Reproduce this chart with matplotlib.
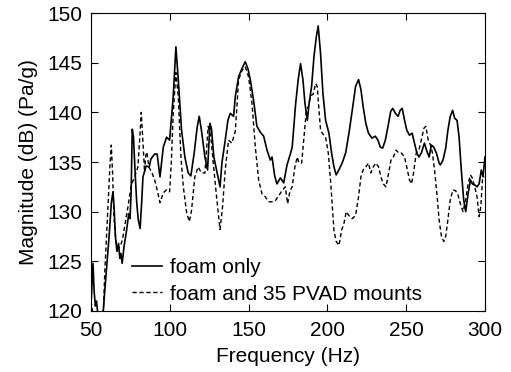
import matplotlib
matplotlib.use('Agg')
import matplotlib.pyplot as plt

# foam only (solid)
freq_foam = [50, 51.3, 52, 52.8, 53.5, 54.5, 56, 57.6, 58.5, 60, 61.5, 63, 64, 64.8, 65.5,
             66.5, 67.5, 68.3, 69, 69.8, 71, 72.5, 74, 74.8, 75.5, 76.2, 77, 78, 79, 80,
             81.2, 82.2, 83, 85, 87, 88, 90.4, 92, 93.8, 95.9, 98, 99.9, 102.2, 103.9,
             105.4, 107.5, 109.6, 111.7, 113.4, 115.5, 117.4, 118.7, 120.1, 122.3, 124,
             125.5, 126.5, 128, 129.7, 131.9, 133.1, 135.2, 136.9, 138.4, 140.5, 141.6,
             143.7, 145.8, 147.9, 149.6, 151.1, 153.2, 155.3, 157.5, 159.6, 161.7, 163.8,
             164.9, 166.6, 168, 170.2, 172.3, 174.4, 176.5, 177.7, 179.9, 181.5, 183,
             184.5, 185.8, 187.3, 188.4, 190, 191.5, 193, 194.2, 195.7, 197.2, 198.9, 201,
             202.7, 204.2, 205.6, 207.3, 209.4, 211.6, 213.7, 215.8, 217.9, 219.8, 221.3,
             222.7, 224.4, 226.1, 228.3, 230.4, 232.1, 233.6, 235.1, 236.8, 238.5, 240.2,
             241.5, 243.2, 244.9, 246.2, 247.5, 249, 250.4, 252.1, 253.8, 255.3, 256.8,
             258.1, 259.6, 261.6, 262.9, 264.6, 266, 267.5, 269.2, 270.9, 271.7, 273.4,
             275.1, 276.5, 278, 279.5, 280.8, 282.3, 283.6, 285, 286.5, 287.8, 289.3,
             290.8, 292, 293.5, 295, 296.3, 297.7, 298.8, 300]
mag_foam = [120.5, 124.8, 122, 120.5, 121, 119.5, 118, 119.5, 121.5, 124.5, 127.5, 131, 132,
            130, 127.5, 126, 126.8, 125.3, 125.8, 124.8, 126.5, 128, 129.8, 129.3, 132,
            138.3, 137.5, 134, 131, 129.2, 128.3, 131, 133.5, 134.6, 134.5, 135.3, 135.8,
            135.8, 133.5, 136.5, 137.5, 137.2, 141.6, 146.6, 143.3, 138.2, 135.5, 133.9,
            133.6, 135.9, 138.5, 139.6, 138.2, 135.5, 134.2, 138.9, 138.3, 135.5, 134.2,
            132.5, 134.9, 137.2, 139.2, 139.9, 139.6, 141.6, 143.6, 144.4, 145.1, 144.4,
            143.3, 141.2, 138.6, 138.0, 137.6, 136.2, 135.2, 135.5, 133.6, 132.8, 133.4,
            132.9, 134.7, 135.8, 136.5, 140.9, 143.3, 144.9, 143.3, 140.9, 139.2, 140.9,
            142.6, 145.6, 147.6, 148.7, 145.9, 141.9, 139.2, 137.9, 135.9, 134.5, 133.7,
            134.2, 134.9, 135.9, 137.9, 140.2, 142.6, 143.3, 142.3, 140.6, 138.9, 137.9,
            137.4, 137.6, 137.2, 136.5, 136.4, 137.2, 138.6, 140.1, 140.4, 139.9, 139.6,
            140.2, 140.4, 139.2, 138.2, 137.7, 137.9, 136.9, 135.9, 135.5, 135.9, 136.9,
            136.2, 135.5, 136.7, 136.5, 135.9, 134.9, 134.7, 135.2, 136.4, 138.2, 139.6,
            140.2, 139.4, 139.2, 137.5, 134.2, 131.2, 130.0, 131.8, 133.2, 132.8, 132.7,
            132.5, 132.8, 134.2, 133.5, 135.5]

# foam and 35 PVAD mounts (dashed)
freq_pvad = [50, 51.5, 53, 55, 57, 58, 58.8, 60, 60.8, 62, 62.9, 63.7, 64.6, 66, 67.5, 68.8,
             70, 71.4, 73.5, 75.6, 77.7, 79.8, 81, 81.9, 83, 84, 84.7, 85.5, 86.7, 88.5,
             90.4, 92, 93.8, 95.9, 98, 99.9, 101, 102.2, 103.9, 105.4, 107.1, 108.6, 110.7,
             112.4, 113.8, 115.9, 118, 120.1, 122.3, 124.4, 126.1, 127.6, 129.7, 131.9,
             133.5, 135.2, 137.3, 139.4, 141.6, 143.7, 145.8, 147.9, 150, 152.2, 154.3,
             156.4, 158.5, 160.6, 162.7, 164.9, 167, 169.1, 171.2, 173.3, 174.8, 176.3,
             177.7, 179.4, 180.9, 182, 183.7, 185.2, 186.7, 188, 189.5, 190.9, 192.6,
             193.6, 194.7, 195.7, 196.8, 198.9, 200.6, 202, 203.2, 204.2, 205.6, 207.4,
             209, 210.5, 212, 213.7, 215.8, 217.9, 219.8, 221.3, 222.7, 224.4, 226.1,
             227.6, 229.1, 230.8, 232.5, 234, 235.5, 237.2, 238.9, 240.4, 241.9, 243.6,
             245.3, 247, 249, 250.4, 252.1, 253.4, 254.7, 256.4, 258.1, 259.6, 261.3,
             262.5, 264, 265.5, 266.7, 268.2, 269.7, 270.9, 272.4, 273.9, 275.1, 276.5,
             278, 279.7, 281.4, 282.9, 284.4, 286.1, 287.8, 289.3, 290.8, 292, 293.5, 295,
             296.3, 297.4, 298.4, 300]
mag_pvad = [121, 119.5, 118.5, 118, 118.8, 120.5, 124, 128, 130.9, 134.5, 136.7, 134, 129.5,
            126.8, 126.3, 126.6, 127.2, 128.5, 130.5, 132.7, 133.5, 134.5, 137.5, 140, 137,
            134, 135.6, 136, 134.5, 134, 133.2, 132.2, 130.9, 131.9, 132.2, 132.0, 135,
            139.9, 144, 141.6, 135.5, 132.5, 129.9, 129, 130.1, 133.5, 134.5, 133.9, 133.9,
            138.6, 137.5, 134.9, 131.5, 128.2, 130.5, 134.2, 137.2, 136.9, 138.1, 143.3,
            144.2, 144.6, 143.6, 140.9, 136.5, 133.2, 131.8, 131.5, 131.0, 131.0, 131.1,
            131.6, 132.1, 132.5, 130.8, 132.1, 132.5, 134.5, 135.5, 134.9, 134.9, 137.5,
            140.2, 140.6, 141.7, 141.8, 142.9, 142.6, 140.2, 138.2, 137.9, 137.5, 135.9,
            133.2, 130.5, 128.1, 127, 126.6, 128.1, 128.8, 130, 129.6, 129.3, 129.6, 131.5,
            133.5, 134.2, 134.5, 134.9, 133.9, 134.5, 134.9, 134.5, 133.5, 132.8, 132.5,
            133.9, 135.2, 135.5, 136.2, 135.9, 135.9, 135.5, 134.5, 133.2, 132.8, 133.9,
            135.9, 136.2, 137.2, 138.4, 138.6, 137.2, 136.7, 135.9, 133.9, 131.5, 129.2,
            127.5, 127, 127.5, 129.2, 131.2, 132.2, 132.1, 131.7, 130.8, 130, 131.2, 132.8,
            133.7, 133.4, 132.5, 131.5, 129.5, 130.5, 133.2, 133.5]

plt.rcParams['font.family'] = ['Liberation Sans', 'DejaVu Sans']

fig = plt.figure(figsize=(5.11, 3.72), dpi=100)
ax = fig.add_axes([0.178, 0.164, 0.771, 0.801])

ax.plot(freq_foam, mag_foam, color='black', lw=1.2, label='foam only')
ax.plot(freq_pvad, mag_pvad, color='black', lw=1.0, linestyle=(0, (3, 2)),
        label='foam and 35 PVAD mounts')

ax.set_xlim(50, 300)
ax.set_ylim(120, 150)
ax.set_xticks([50, 100, 150, 200, 250, 300])
ax.set_yticks([120, 125, 130, 135, 140, 145, 150])
ax.tick_params(direction='in', top=True, right=True, labelsize=15, length=5)
ax.tick_params(axis='x', pad=7.5)
ax.tick_params(axis='y', pad=6)
ax.set_xlabel('Frequency (Hz)', fontsize=15, labelpad=5)
ax.set_ylabel('Magnitude (dB) (Pa/g)', fontsize=15, labelpad=7)

ax.legend(loc='lower left', frameon=False, fontsize=15, handlelength=1.45,
          handletextpad=0.4, borderpad=0, borderaxespad=0,
          bbox_to_anchor=(0.104, 0.025), labelspacing=0.35)

fig.savefig('out.png', dpi=100)
